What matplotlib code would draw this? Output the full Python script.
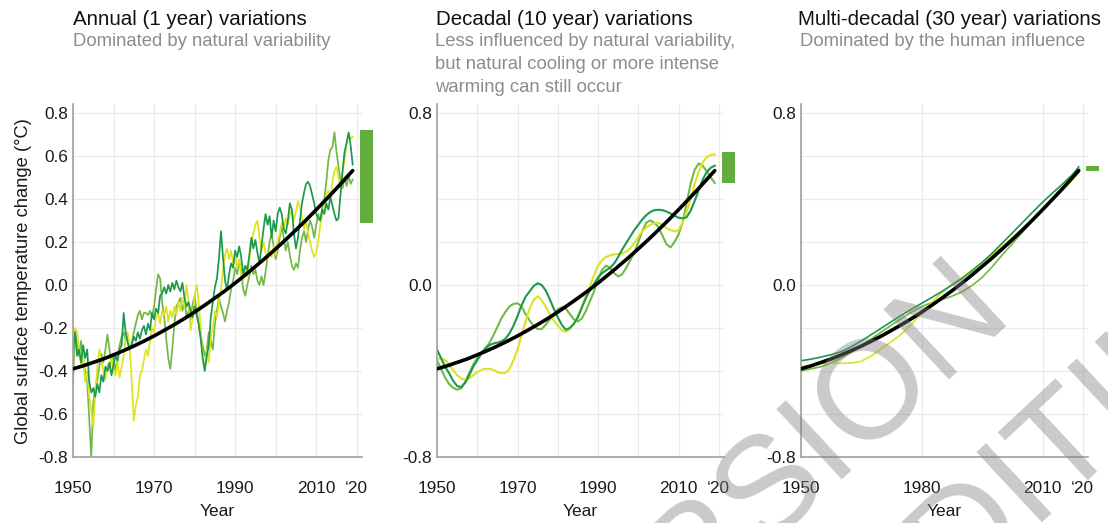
import numpy as np
import matplotlib
matplotlib.use("Agg")
import matplotlib.pyplot as plt

plt.rcParams['font.family'] = ['Liberation Sans', 'DejaVu Sans']

# ---------------- data ----------------
# Annual variations: three realisations, half-yearly values
annual_years = np.arange(1950.0, 2019.01, 0.5)
annual_dark = [
    -0.30, -0.22, -0.33, -0.30, -0.36, -0.28, -0.34, -0.30, -0.45, -0.50, -0.48, -0.52, -0.46, -0.50, -0.42, -0.45, -0.38, -0.40, -0.36, -0.42,
    -0.37, -0.33, -0.35, -0.30, -0.28, -0.13, -0.22, -0.27, -0.30, -0.28, -0.24, -0.26, -0.22, -0.25, -0.21, -0.19, -0.23, -0.18, -0.21, -0.13,
    -0.16, -0.11, -0.13, -0.05, -0.04, -0.01, -0.04, 0.00, -0.03, 0.01, -0.02, 0.02, -0.01, -0.03, 0.01, -0.06, -0.10, -0.08, -0.12, -0.15,
    -0.10, -0.14, -0.18, -0.25, -0.34, -0.40, -0.33, -0.28, -0.15, -0.08, -0.01, 0.03, 0.12, 0.25, 0.13, 0.02, -0.02, 0.05, 0.10, 0.08,
    0.16, 0.13, 0.18, 0.13, 0.05, 0.09, 0.07, 0.14, 0.22, 0.17, 0.21, 0.15, 0.10, 0.18, 0.26, 0.33, 0.28, 0.32, 0.22, 0.30,
    0.25, 0.33, 0.36, 0.33, 0.26, 0.24, 0.30, 0.38, 0.35, 0.24, 0.17, 0.22, 0.30, 0.38, 0.43, 0.47, 0.48, 0.46, 0.42, 0.38,
    0.33, 0.31, 0.30, 0.35, 0.33, 0.38, 0.35, 0.41, 0.37, 0.33, 0.30, 0.31, 0.42, 0.53, 0.62, 0.66, 0.71, 0.65, 0.56,
]
annual_mid = [
    -0.46, -0.21, -0.28, -0.33, -0.26, -0.35, -0.40, -0.45, -0.62, -0.80, -0.55, -0.48, -0.44, -0.38, -0.32, -0.36, -0.30, -0.23, -0.30, -0.36,
    -0.33, -0.40, -0.35, -0.28, -0.24, -0.22, -0.26, -0.24, -0.30, -0.27, -0.22, -0.18, -0.14, -0.12, -0.16, -0.13, -0.13, -0.14, -0.12, -0.15,
    -0.10, -0.02, 0.05, 0.03, -0.08, -0.15, -0.25, -0.34, -0.39, -0.30, -0.18, -0.10, -0.08, -0.06, -0.12, -0.07, -0.15, -0.12, -0.16, -0.09,
    -0.05, -0.12, -0.18, -0.24, -0.28, -0.33, -0.30, -0.22, -0.26, -0.30, -0.18, -0.12, -0.06, -0.10, -0.13, -0.17, -0.12, -0.08, -0.02, 0.02,
    0.08, 0.05, 0.11, 0.06, -0.02, -0.05, 0.00, 0.04, 0.09, 0.05, 0.07, 0.02, 0.00, 0.04, 0.00, 0.06, 0.13, 0.20, 0.24, 0.18,
    0.12, 0.16, 0.22, 0.27, 0.22, 0.16, 0.20, 0.14, 0.09, 0.07, 0.10, 0.08, 0.16, 0.22, 0.25, 0.20, 0.26, 0.30, 0.27, 0.22,
    0.28, 0.33, 0.30, 0.36, 0.40, 0.48, 0.58, 0.63, 0.64, 0.71, 0.62, 0.55, 0.49, 0.45, 0.50, 0.46, 0.51, 0.47, 0.49,
]
annual_yellow = [
    -0.30, -0.20, -0.22, -0.30, -0.38, -0.33, -0.45, -0.40, -0.52, -0.58, -0.66, -0.50, -0.38, -0.30, -0.35, -0.40, -0.44, -0.37, -0.40, -0.34,
    -0.40, -0.42, -0.36, -0.43, -0.38, -0.33, -0.25, -0.22, -0.30, -0.45, -0.63, -0.56, -0.52, -0.42, -0.40, -0.35, -0.30, -0.33, -0.26, -0.20,
    -0.22, -0.15, -0.13, -0.18, -0.12, -0.14, -0.10, -0.17, -0.12, -0.15, -0.10, -0.14, -0.08, -0.12, -0.06, -0.10, 0.00, -0.08, -0.21, -0.16,
    -0.05, 0.00, -0.08, -0.20, -0.33, -0.39, -0.30, -0.36, -0.24, -0.20, -0.12, -0.15, -0.08, -0.02, 0.07, 0.14, 0.17, 0.12, 0.16, 0.10,
    0.14, 0.08, 0.12, 0.05, 0.02, 0.08, 0.04, 0.12, 0.18, 0.24, 0.28, 0.30, 0.22, 0.16, 0.20, 0.15, 0.12, 0.16, 0.13, 0.18,
    0.14, 0.20, 0.24, 0.29, 0.27, 0.31, 0.28, 0.33, 0.35, 0.30, 0.34, 0.39, 0.36, 0.31, 0.26, 0.30, 0.24, 0.20, 0.16, 0.13,
    0.15, 0.20, 0.28, 0.33, 0.36, 0.42, 0.44, 0.40, 0.48, 0.53, 0.55, 0.50, 0.45, 0.52, 0.58, 0.66, 0.70, 0.68, 0.69,
]

# Decadal variations: yearly values
decadal_years = np.arange(1950, 2020)
decadal_dark = [
    -0.30, -0.34, -0.38, -0.41, -0.445, -0.47, -0.475, -0.455, -0.42, -0.38,
    -0.35, -0.32, -0.295, -0.28, -0.272, -0.268, -0.262, -0.25, -0.225, -0.19,
    -0.145, -0.095, -0.055, -0.03, -0.005, 0.008, 0.0, -0.025, -0.065, -0.11,
    -0.15, -0.185, -0.208, -0.20, -0.18, -0.15, -0.105, -0.06, -0.025, 0.005,
    0.035, 0.055, 0.068, 0.08, 0.10, 0.13, 0.165, 0.195, 0.225, 0.255,
    0.28, 0.305, 0.325, 0.34, 0.348, 0.35, 0.348, 0.342, 0.333, 0.322,
    0.313, 0.31, 0.315, 0.345, 0.39, 0.44, 0.49, 0.525, 0.545, 0.555,
]
decadal_mid = [
    -0.35, -0.39, -0.43, -0.46, -0.478, -0.487, -0.48, -0.45, -0.41, -0.37,
    -0.34, -0.315, -0.295, -0.27, -0.235, -0.195, -0.155, -0.125, -0.10, -0.088,
    -0.085, -0.10, -0.135, -0.165, -0.19, -0.205, -0.205, -0.185, -0.16, -0.135,
    -0.113, -0.104, -0.11, -0.135, -0.16, -0.17, -0.155, -0.12, -0.075, -0.03,
    0.025, 0.07, 0.09, 0.08, 0.055, 0.04, 0.05, 0.08, 0.115, 0.15,
    0.20, 0.25, 0.29, 0.30, 0.29, 0.27, 0.23, 0.19, 0.175, 0.20,
    0.235, 0.29, 0.38, 0.47, 0.535, 0.565, 0.555, 0.53, 0.50, 0.475,
]
decadal_yellow = [
    -0.345, -0.34, -0.35, -0.37, -0.395, -0.42, -0.435, -0.44, -0.435, -0.42,
    -0.405, -0.395, -0.39, -0.39, -0.395, -0.405, -0.41, -0.41, -0.39, -0.35,
    -0.30, -0.235, -0.17, -0.11, -0.07, -0.052, -0.07, -0.10, -0.135, -0.165,
    -0.19, -0.21, -0.218, -0.205, -0.18, -0.145, -0.10, -0.05, -0.005, 0.045,
    0.09, 0.115, 0.13, 0.138, 0.142, 0.144, 0.146, 0.155, 0.17, 0.195,
    0.225, 0.25, 0.268, 0.28, 0.288, 0.29, 0.28, 0.265, 0.255, 0.25,
    0.255, 0.29, 0.34, 0.40, 0.47, 0.525, 0.57, 0.595, 0.605, 0.607,
]

# Multi-decadal variations and the forced (human-driven) warming curve
smooth_years = [1950, 1952.5, 1955, 1957.5, 1960, 1962.5, 1965, 1967.5, 1970, 1972.5,
                1975, 1977.5, 1980, 1982.5, 1985, 1987.5, 1990, 1992.5, 1995, 1997.5,
                2000, 2002.5, 2005, 2007.5, 2010, 2012.5, 2015, 2017.5, 2019]
forced_trend = [-0.39, -0.376, -0.36, -0.344, -0.325, -0.305, -0.284, -0.261, -0.237, -0.211,
                -0.184, -0.156, -0.126, -0.094, -0.061, -0.027, 0.009, 0.047, 0.086, 0.126,
                0.168, 0.211, 0.256, 0.302, 0.35, 0.399, 0.449, 0.501, 0.532]
multi_dark = [-0.352, -0.345, -0.335, -0.324, -0.31, -0.287, -0.26, -0.23, -0.20, -0.17,
              -0.14, -0.112, -0.085, -0.058, -0.03, 0.0, 0.03, 0.066, 0.105, 0.148,
              0.195, 0.242, 0.29, 0.338, 0.385, 0.428, 0.47, 0.515, 0.55]
multi_mid = [-0.40, -0.39, -0.38, -0.362, -0.34, -0.312, -0.282, -0.25, -0.218, -0.186,
             -0.155, -0.126, -0.10, -0.082, -0.068, -0.052, -0.032, -0.002, 0.035, 0.085,
             0.14, 0.192, 0.245, 0.298, 0.35, 0.398, 0.445, 0.495, 0.54]
multi_yellow = [-0.38, -0.372, -0.366, -0.364, -0.364, -0.363, -0.355, -0.33, -0.295, -0.263,
                -0.228, -0.182, -0.13, -0.08, -0.035, 0.002, 0.035, 0.07, 0.105, 0.142,
                0.18, 0.22, 0.26, 0.305, 0.35, 0.395, 0.44, 0.49, 0.525]

# End-of-period spread bars (low, high)
range_annual = (0.29, 0.72)
range_decadal = (0.475, 0.62)
range_multi = (0.53, 0.555)

titles = ["Annual (1 year) variations",
          "Decadal (10 year) variations",
          "Multi-decadal (30 year) variations"]
subtitles = [["Dominated by natural variability"],
             ["Less influenced by natural variability,",
              "but natural cooling or more intense",
              "warming can still occur"],
             ["Dominated by the human influence"]]

y_ticks = [-0.8, -0.6, -0.4, -0.2, 0.0, 0.2, 0.4, 0.6, 0.8]
y_labels_full = ["-0.8", "-0.6", "-0.4", "-0.2", "0.0", "0.2", "0.4", "0.6", "0.8"]
y_labels_sparse = ["-0.8", "", "", "", "0.0", "", "", "", "0.8"]
x_ticks_ab = [1950, 1970, 1990, 2010, 2020]
x_labels_ab = ["1950", "1970", "1990", "2010", "\u201820"]
x_minor_ab = [1960, 1980, 2000]
x_ticks_c = [1950, 1980, 2010, 2020]
x_labels_c = ["1950", "1980", "2010", "\u201820"]

# ---------------- styling ----------------
DARK = '#1b9a4c'
MID = '#72b845'
YEL = '#dde31f'
BAR = '#62ad3d'
GRID = '#ebebeb'
SPINE = '#a0a0a0'

W, H = 1108, 523
fig = plt.figure(figsize=(W / 100, H / 100), dpi=100)

rects = [
    [73 / W, 1 - 457 / H, 289 / W, 352.6 / H],
    [437 / W, 1 - 457 / H, 287 / W, 352.6 / H],
    [801 / W, 1 - 457 / H, 287 / W, 352.6 / H],
]
axes = [fig.add_axes(r) for r in rects]


def style_axis(ax, xt, xl, xminor, ylabels):
    ax.set_xlim(1950, 2021.3)
    ax.set_ylim(-0.8, 0.84)
    ax.set_xticks(xt)
    ax.set_xticklabels(xl)
    ax.set_xticks(xminor, minor=True)
    ax.set_yticks(y_ticks)
    ax.set_yticklabels(ylabels)
    ax.grid(which='both', color=GRID, lw=0.9)
    ax.set_axisbelow(True)
    ax.tick_params(which='both', length=0, labelsize=12.4, colors='#1a1a1a')
    ax.tick_params(axis='x', pad=17.5)
    ax.tick_params(axis='y', pad=3.6)
    for s in ('top', 'right'):
        ax.spines[s].set_visible(False)
    for s in ('left', 'bottom'):
        ax.spines[s].set_color(SPINE)
        ax.spines[s].set_linewidth(1.2)
    ax.set_xlabel("Year", fontsize=12.5, color='#1a1a1a', labelpad=5.5)


def spread_bar(ax, rng):
    lo, hi = rng
    ax.bar([2022.4], [hi - lo], bottom=[lo], width=3.1, color=BAR, clip_on=False, zorder=3)


# Annual panel
ax = axes[0]
style_axis(ax, x_ticks_ab, x_labels_ab, x_minor_ab, y_labels_full)
ax.plot(annual_years, annual_mid, color=MID, lw=1.25, zorder=2)
ax.plot(annual_years, annual_yellow, color=YEL, lw=1.25, zorder=2)
ax.plot(annual_years, annual_dark, color=DARK, lw=1.25, zorder=2)
ax.plot(smooth_years, forced_trend, color='black', lw=2.6, zorder=4, solid_capstyle='round')
spread_bar(ax, range_annual)
ax.set_ylabel("Global surface temperature change (\u00b0C)", fontsize=13.2, color='#1a1a1a')
ax.yaxis.set_label_coords(-0.142, 0.5)

# Decadal panel
ax = axes[1]
style_axis(ax, x_ticks_ab, x_labels_ab, x_minor_ab, y_labels_sparse)
ax.plot(decadal_years, decadal_mid, color=MID, lw=1.5, zorder=2)
ax.plot(decadal_years, decadal_yellow, color=YEL, lw=1.5, zorder=2)
ax.plot(decadal_years, decadal_dark, color=DARK, lw=1.5, zorder=2)
ax.plot(smooth_years, forced_trend, color='black', lw=2.6, zorder=4, solid_capstyle='round')
spread_bar(ax, range_decadal)

# Multi-decadal panel
ax = axes[2]
style_axis(ax, x_ticks_c, x_labels_c, [], y_labels_sparse)
ax.plot(smooth_years, multi_mid, color=MID, lw=1.2, zorder=2)
ax.plot(smooth_years, multi_yellow, color=YEL, lw=1.2, zorder=2)
ax.plot(smooth_years, multi_dark, color=DARK, lw=1.2, zorder=2)
ax.plot(smooth_years, forced_trend, color='black', lw=2.6, zorder=4, solid_capstyle='round')
spread_bar(ax, range_multi)

# Panel headings
title_x = [73, 436, 798]
sub_x = [73, 435, 800]
for i in range(3):
    fig.text(title_x[i] / W, 1 - 25 / H, titles[i], fontsize=14.8, color='#111111',
             ha='left', va='baseline')
    for j, line in enumerate(subtitles[i]):
        fig.text(sub_x[i] / W, 1 - (46 + 23 * j) / H, line, fontsize=13.3,
                 color='#8c8c8c', ha='left', va='baseline')

# Draft watermark
ang = 43
b = np.array([np.cos(np.radians(ang)), -np.sin(np.radians(ang))])
down = np.array([np.sin(np.radians(ang)), np.cos(np.radians(ang))])
end1 = np.array([1015.0, 318.0])
em = 140.0
end2 = end1 + 1.72 * em * b + 1.2 * em * down
for txt, p in (("ACCEPTED VERSION", end1), ("SUBJECT TO FINAL EDITING", end2)):
    fig.text(p[0] / W, 1 - p[1] / H, txt, fontsize=em * 0.72, color='#808080', alpha=0.42,
             rotation=ang, rotation_mode='anchor', ha='right',
             va='baseline', zorder=10)

fig.savefig("out.png", dpi=100)
